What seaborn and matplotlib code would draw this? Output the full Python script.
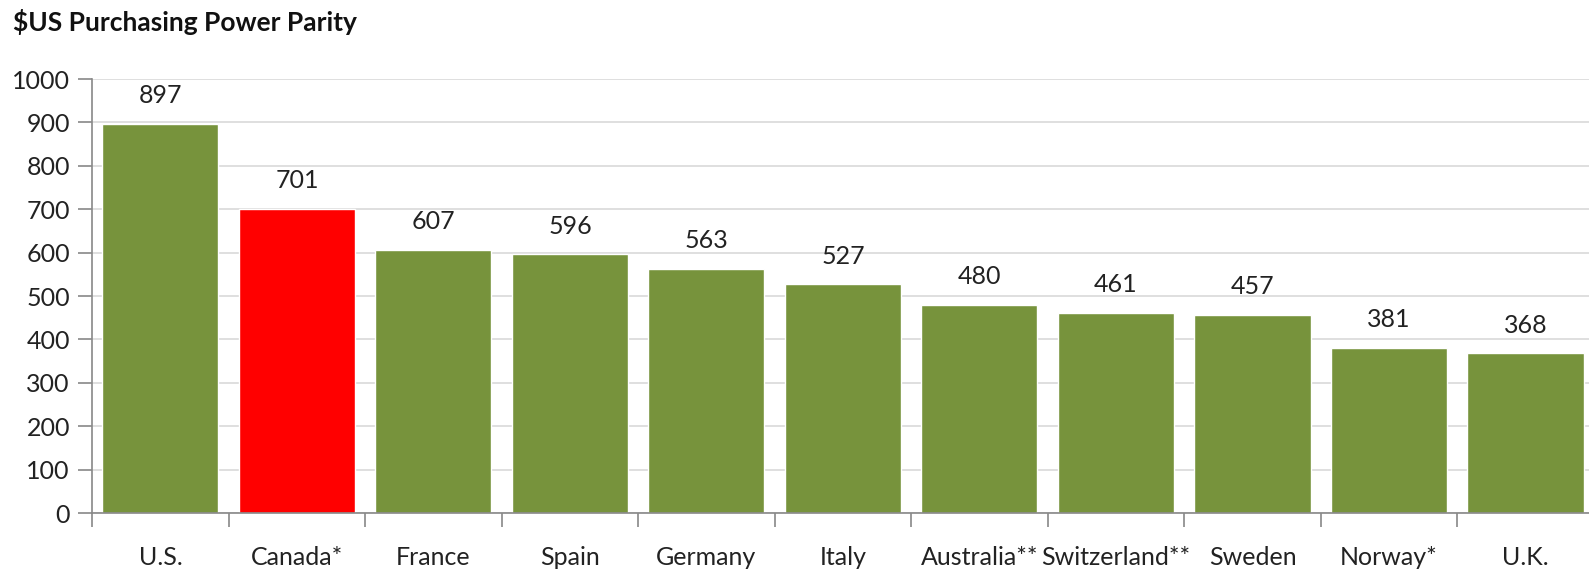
import matplotlib
matplotlib.use("Agg")
import matplotlib.pyplot as plt
from matplotlib.ticker import FixedLocator
import seaborn as sns
import pandas as pd
import numpy as np

countries = ["U.S.", "Canada*", "France", "Spain", "Germany", "Italy",
             "Australia**", "Switzerland**", "Sweden", "Norway*", "U.K."]
values = [897, 701, 607, 596, 563, 527, 480, 461, 457, 381, 368]
bar_colors = ["#77933C", "#FF0000", "#77933C", "#77933C", "#77933C", "#77933C",
              "#77933C", "#77933C", "#77933C", "#77933C", "#77933C"]

sns.set_style("white")
plt.rcParams["font.family"] = ["Lato", "DejaVu Sans"]

df = pd.DataFrame({"Country": countries, "Value": values})

fig = plt.figure(figsize=(15.89, 5.69), dpi=100)
ax = fig.add_axes([0.058, 0.0984, 0.945, 0.7626])

sns.barplot(data=df, x="Country", y="Value", hue="Country",
            palette=dict(zip(countries, bar_colors)), legend=False,
            width=0.85, saturation=1, ax=ax)

for cont in ax.containers:
    ax.bar_label(cont, padding=12, fontsize=18, color="#222222")

ax.set_ylim(0, 1000)
ax.set_yticks(np.arange(0, 1001, 100))
ax.set_xlim(-0.5, 10.5)
ax.yaxis.grid(True, color="#D9D9D9", linewidth=1.2)
ax.set_axisbelow(True)

ax.set_xlabel("")
ax.set_ylabel("")

for side in ["top", "right"]:
    ax.spines[side].set_visible(False)
for side in ["left", "bottom"]:
    ax.spines[side].set_color("#888888")
    ax.spines[side].set_linewidth(1.2)

ax.tick_params(axis="y", which="major", length=10, width=1.2, color="#888888",
               labelsize=18, labelcolor="#222222", pad=6, left=True)
ax.tick_params(axis="x", which="major", length=0, labelsize=18,
               labelcolor="#222222", pad=24)
ax.xaxis.set_minor_locator(FixedLocator(np.arange(-0.5, 11, 1.0)))
ax.tick_params(axis="x", which="minor", length=10, width=1.2,
               color="#888888", bottom=True)

fig.text(0.008, 0.961, "$US Purchasing Power Parity", fontsize=19,
         fontweight="bold", color="#111111", va="center", ha="left")

fig.savefig("out.png", dpi=100)
plt.close(fig)
